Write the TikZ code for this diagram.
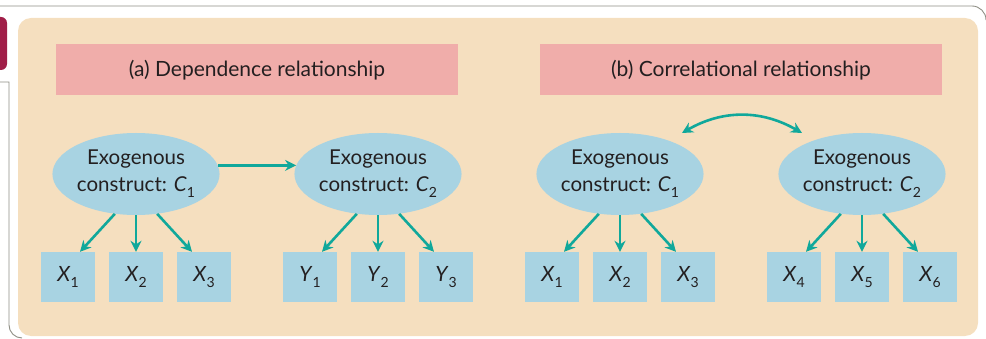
\documentclass[tikz,border=0pt]{standalone}
\usepackage{fontspec}
\setmainfont{Lato}
\usetikzlibrary{arrows.meta,shapes.geometric}
\definecolor{panel}{HTML}{F5DFBF}
\definecolor{titlebar}{HTML}{F0ADAA}
\definecolor{ell}{HTML}{A8D3E2}
\definecolor{teal}{HTML}{10A89B}
\definecolor{frame}{HTML}{8E8E84}
\definecolor{maroon}{HTML}{A01E48}
\definecolor{ink}{HTML}{231F20}
\newcommand{\vsub}[2]{\textit{#1}\raisebox{-0.55ex}{\fontsize{14}{14}\selectfont #2}}
\tikzset{
  construct/.style={ellipse, fill=ell, minimum width=160pt, minimum height=82pt, inner sep=0pt, align=center, text=ink, font=\fontsize{20.5}{27}\selectfont},
  indicator/.style={rectangle, fill=ell, minimum width=54pt, minimum height=50pt, inner sep=0pt, text=ink, font=\fontsize{21}{21}\selectfont},
  titlebox/.style={rectangle, fill=titlebar, minimum width=402pt, minimum height=51pt, inner sep=0pt, text=ink, font=\fontsize{21}{21}\selectfont},
  tip/.style={Stealth[length=11pt,width=11pt]},
  link/.style={draw=teal, line width=2.6pt, -{Stealth[length=11pt,width=11pt]}},
}
\begin{document}
\begin{tikzpicture}[x=1pt,y=-1pt]
\useasboundingbox (0,0) rectangle (986,339);
% outer frame
\draw[frame, line width=0.9pt] (0,6) -- (972,6) arc[start angle=-90, end angle=0, radius=14];
\draw[frame, line width=0.9pt] (0,82) -- (9,82) -- (9,325) arc[start angle=180, end angle=90, radius=13];
\fill[maroon, rounded corners=6pt] (-10,17) rectangle (7,70);
% panel
\fill[panel, rounded corners=13pt] (18,18) rectangle (978,336);
% titles
\node[titlebox] (ta) at (257,70) {(a) Dependence relationship};
\node[titlebox] (tb) at (741,70) {(b) Correlational relationship};
% (a)
\node[construct] (a1) at (136,174) {Exogenous\\construct: \vsub{C}{1}};
\node[construct] (a2) at (378,174) {Exogenous\\construct: \vsub{C}{2}};
\node[indicator] (ax1) at (68,277) {\vsub{X}{1}};
\node[indicator] (ax2) at (136,277) {\vsub{X}{2}};
\node[indicator] (ax3) at (204,277) {\vsub{X}{3}};
\node[indicator] (ay1) at (310,277) {\vsub{Y}{1}};
\node[indicator] (ay2) at (378,277) {\vsub{Y}{2}};
\node[indicator] (ay3) at (446,277) {\vsub{Y}{3}};
\draw[link] (a1.-118) -- ([xshift=12pt]ax1.north);
\draw[link] (a1.south) -- (ax2.north);
\draw[link] (a1.-62) -- ([xshift=-12pt]ax3.north);
\draw[link] (a2.-118) -- ([xshift=12pt]ay1.north);
\draw[link] (a2.south) -- (ay2.north);
\draw[link] (a2.-62) -- ([xshift=-12pt]ay3.north);
\draw[link] (a1.6) -- (a2.174);
% (b)
\node[construct] (b1) at (620,174) {Exogenous\\construct: \vsub{C}{1}};
\node[construct] (b2) at (862,174) {Exogenous\\construct: \vsub{C}{2}};
\node[indicator] (bx1) at (552,277) {\vsub{X}{1}};
\node[indicator] (bx2) at (620,277) {\vsub{X}{2}};
\node[indicator] (bx3) at (688,277) {\vsub{X}{3}};
\node[indicator] (bx4) at (794,277) {\vsub{X}{4}};
\node[indicator] (bx5) at (862,277) {\vsub{X}{5}};
\node[indicator] (bx6) at (930,277) {\vsub{X}{6}};
\draw[link] (b1.-118) -- ([xshift=12pt]bx1.north);
\draw[link] (b1.south) -- (bx2.north);
\draw[link] (b1.-62) -- ([xshift=-12pt]bx3.north);
\draw[link] (b2.-118) -- ([xshift=12pt]bx4.north);
\draw[link] (b2.south) -- (bx5.north);
\draw[link] (b2.-62) -- ([xshift=-12pt]bx6.north);
\coordinate (cl) at ([shift={(62,-41)}]b1.center);
\coordinate (cr) at ([shift={(-60,-41)}]b2.center);
\draw[link, {Stealth[length=11pt,width=11pt]}-{Stealth[length=11pt,width=11pt]}] (cl) to[bend left=30] (cr);
\end{tikzpicture}
\end{document}
